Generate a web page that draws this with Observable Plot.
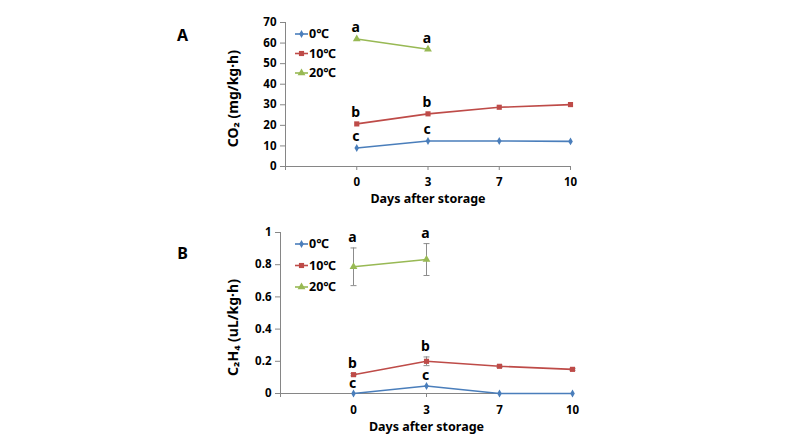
<!DOCTYPE html>
<html>
<head>
<meta charset="utf-8">
<script src="https://cdn.jsdelivr.net/npm/d3@7"></script>
<script src="https://cdn.jsdelivr.net/npm/@observablehq/plot@0.6"></script>
<style>
  html, body { margin: 0; padding: 0; background: #fff; }
  #chart { width: 800px; height: 438px; }
  #chart svg { display: block; font-family: "Noto Sans", "Noto Sans CJK KR", sans-serif; }
</style>
</head>
<body>
<div id="chart"></div>
<script>
// ---- data ----
const days = [0, 3, 7, 10];
const seriesNames = ["0℃", "10℃", "20℃"];
const seriesColors = ["#4a7ebb", "#be4b48", "#98b954"];
const seriesSymbols = ["diamond", "square", "triangle"];

// CO2 production (mg/kg·h)
const co2_0 = [9.0, 12.4, 12.4, 12.2];
const co2_10 = [20.7, 25.6, 28.8, 30.1];
const co2_20 = [62.0, 57.0, null, null];
const co2Letters_0 = ["c", "c", null, null];
const co2Letters_10 = ["b", "b", null, null];
const co2Letters_20 = ["a", "a", null, null];

// C2H4 production (uL/kg·h)
const eth_0 = [0, 0.047, 0, 0];
const eth_10 = [0.117, 0.200, 0.169, 0.150];
const eth_20 = [0.787, 0.832, null, null];
const ethErr_0 = [0.003, 0.004, 0.002, 0.002];
const ethErr_10 = [0.007, 0.027, 0.007, 0.006];
const ethErr_20 = [0.117, 0.099, null, null];
const ethLetters_0 = ["c", "c", null, null];
const ethLetters_10 = ["b", "b", null, null];
const ethLetters_20 = ["a", "a", null, null];

const co2Ticks = [0, 10, 20, 30, 40, 50, 60, 70];
const ethTicks = [0, 0.2, 0.4, 0.6, 0.8, 1];

// ---- build rows ----
function rows(valuesList, errList, letterList) {
  const out = [];
  valuesList.forEach((vals, s) => {
    vals.forEach((v, i) => {
      if (v == null) return;
      out.push({
        s, i,
        v,
        err: errList ? (errList[s][i] || 0) : 0,
        letter: letterList[s][i]
      });
    });
  });
  return out;
}
const co2Rows = rows([co2_0, co2_10, co2_20], null, [co2Letters_0, co2Letters_10, co2Letters_20]);
const ethRows = rows([eth_0, eth_10, eth_20], [ethErr_0, ethErr_10, ethErr_20], [ethLetters_0, ethLetters_10, ethLetters_20]);

const axisGrey = "#868686";
const errGrey = "#8c8c8c";
const capSymbol = { draw(ctx, size) { const w = Math.sqrt(size / Math.PI); ctx.moveTo(-w, 0); ctx.lineTo(w, 0); } };
const d3Sym = { diamond: d3.symbolDiamond, square: d3.symbolSquare, triangle: d3.symbolTriangle };
const symR = [2.4, 2.9, 2.9];

function legendMark(dx0, dy0, step) {
  return (index, scales, values, dims) => {
    const g = d3.create("svg:g");
    const x0 = dims.marginLeft + dx0;
    seriesNames.forEach((name, s) => {
      const y = dims.marginTop + dy0 + s * step;
      g.append("line").attr("x1", x0).attr("x2", x0 + 13).attr("y1", y).attr("y2", y)
        .attr("stroke", seriesColors[s]).attr("stroke-width", 1.6);
      g.append("path").attr("transform", `translate(${x0 + 6.5},${y})`)
        .attr("d", d3.symbol(d3Sym[seriesSymbols[s]], Math.PI * symR[s] * symR[s])())
        .attr("fill", seriesColors[s]);
      g.append("text").attr("x", x0 + 14).attr("y", y).attr("dy", "0.35em")
        .attr("text-anchor", "start")
        .attr("font-size", 12.5).attr("font-weight", "bold").attr("fill", "#000").text(name);
    });
    return g.node();
  };
}

function panel({ rowsData, yDomain, yTicks, yFormat, title, yTitle, yTitleY, xTitleDy, xTickPad, letterDy,
                 marginTop, marginBottom, marginLeft, marginRight, legend, errors, panelDy }) {
  const marks = [
    Plot.ruleX([-1], { stroke: axisGrey }),
    Plot.ruleY([yDomain[0]], { stroke: axisGrey }),
    Plot.axisY({ ticks: yTicks, tickFormat: yFormat, tickSize: 5, tickPadding: 4, stroke: axisGrey, fill: "#000",
                 fontWeight: "bold", fontSize: 11.5, label: null }),
    Plot.axisX({ ticks: [-1, 0, 1, 2, 3], tickFormat: i => (i < 0 ? "" : String(days[i])), tickSize: 4, tickPadding: xTickPad,
                 stroke: axisGrey, fill: "#000", fontWeight: "bold", fontSize: 11.5, label: null }),
  ];
  if (errors) {
    const withErr = rowsData.filter(d => d.err > 0.005);
    marks.push(Plot.ruleX(withErr, { x: "i", y1: d => d.v - d.err, y2: d => d.v + d.err, stroke: errGrey, strokeWidth: 1 }));
    marks.push(Plot.dot(withErr, { x: "i", y: d => d.v + d.err, symbol: capSymbol, r: 3, stroke: errGrey, strokeWidth: 1 }));
    marks.push(Plot.dot(withErr, { x: "i", y: d => d.v - d.err, symbol: capSymbol, r: 3, stroke: errGrey, strokeWidth: 1 }));
  }
  seriesNames.forEach((name, s) => {
    const data = rowsData.filter(d => d.s === s);
    marks.push(Plot.line(data, { x: "i", y: "v", stroke: seriesColors[s], strokeWidth: 1.6 }));
    marks.push(Plot.dot(data, { x: "i", y: "v", symbol: seriesSymbols[s], r: symR[s], fill: seriesColors[s], stroke: "none" }));
  });
  marks.push(Plot.text(rowsData.filter(d => d.letter), { x: "i", y: d => d.v + d.err, text: "letter", dy: letterDy, dx: -1,
                                                         fontSize: 14, fontWeight: "bold", fill: "#000" }));
  marks.push(Plot.text([title], { frameAnchor: "top-left", dx: -(marginLeft - 182), dy: panelDy, textAnchor: "middle",
                                  lineAnchor: "middle", fontSize: 16, fontWeight: "bold", fill: "#000" }));
  marks.push(Plot.text([yTitle], { x: -1, y: yTitleY, rotate: -90, dx: -(marginLeft - 233), textAnchor: "middle",
                                   fontSize: 14, fontWeight: "bold", fill: "#000" }));
  marks.push(Plot.text(["Days after storage"], { frameAnchor: "bottom", dy: xTitleDy, textAnchor: "middle", lineAnchor: "middle",
                                                 fontSize: 12.5, fontWeight: "bold", fill: "#000" }));
  marks.push(legend);
  return Plot.plot({
    width: 800, height: 219,
    marginTop, marginBottom, marginLeft, marginRight,
    x: { domain: [-1, 3], axis: null },
    y: { domain: yDomain, axis: null },
    marks
  });
}

const chart = document.getElementById("chart");
chart.appendChild(panel({
  rowsData: co2Rows, yDomain: [0, 70], yTicks: co2Ticks, yFormat: d => String(d),
  title: "A", yTitle: "CO₂ (mg/kg·h)", yTitleY: 33, xTitleDy: 32, xTickPad: 7, letterDy: -11,
  marginTop: 22, marginBottom: 53, marginLeft: 285, marginRight: 230,
  legend: legendMark(10, 12, 19.5), errors: false, panelDy: 13
}));
chart.appendChild(panel({
  rowsData: ethRows, yDomain: [0, 1], yTicks: ethTicks, yFormat: d => (d === 0 || d === 1 ? String(d) : d.toFixed(1)),
  title: "B", yTitle: "C₂H₄ (uL/kg·h)", yTitleY: 0.41, xTitleDy: 33, xTickPad: 8, letterDy: -10,
  marginTop: 13, marginBottom: 45, marginLeft: 280, marginRight: 228,
  legend: legendMark(15, 12, 21.5), errors: true, panelDy: 21
}));
</script>
</body>
</html>
